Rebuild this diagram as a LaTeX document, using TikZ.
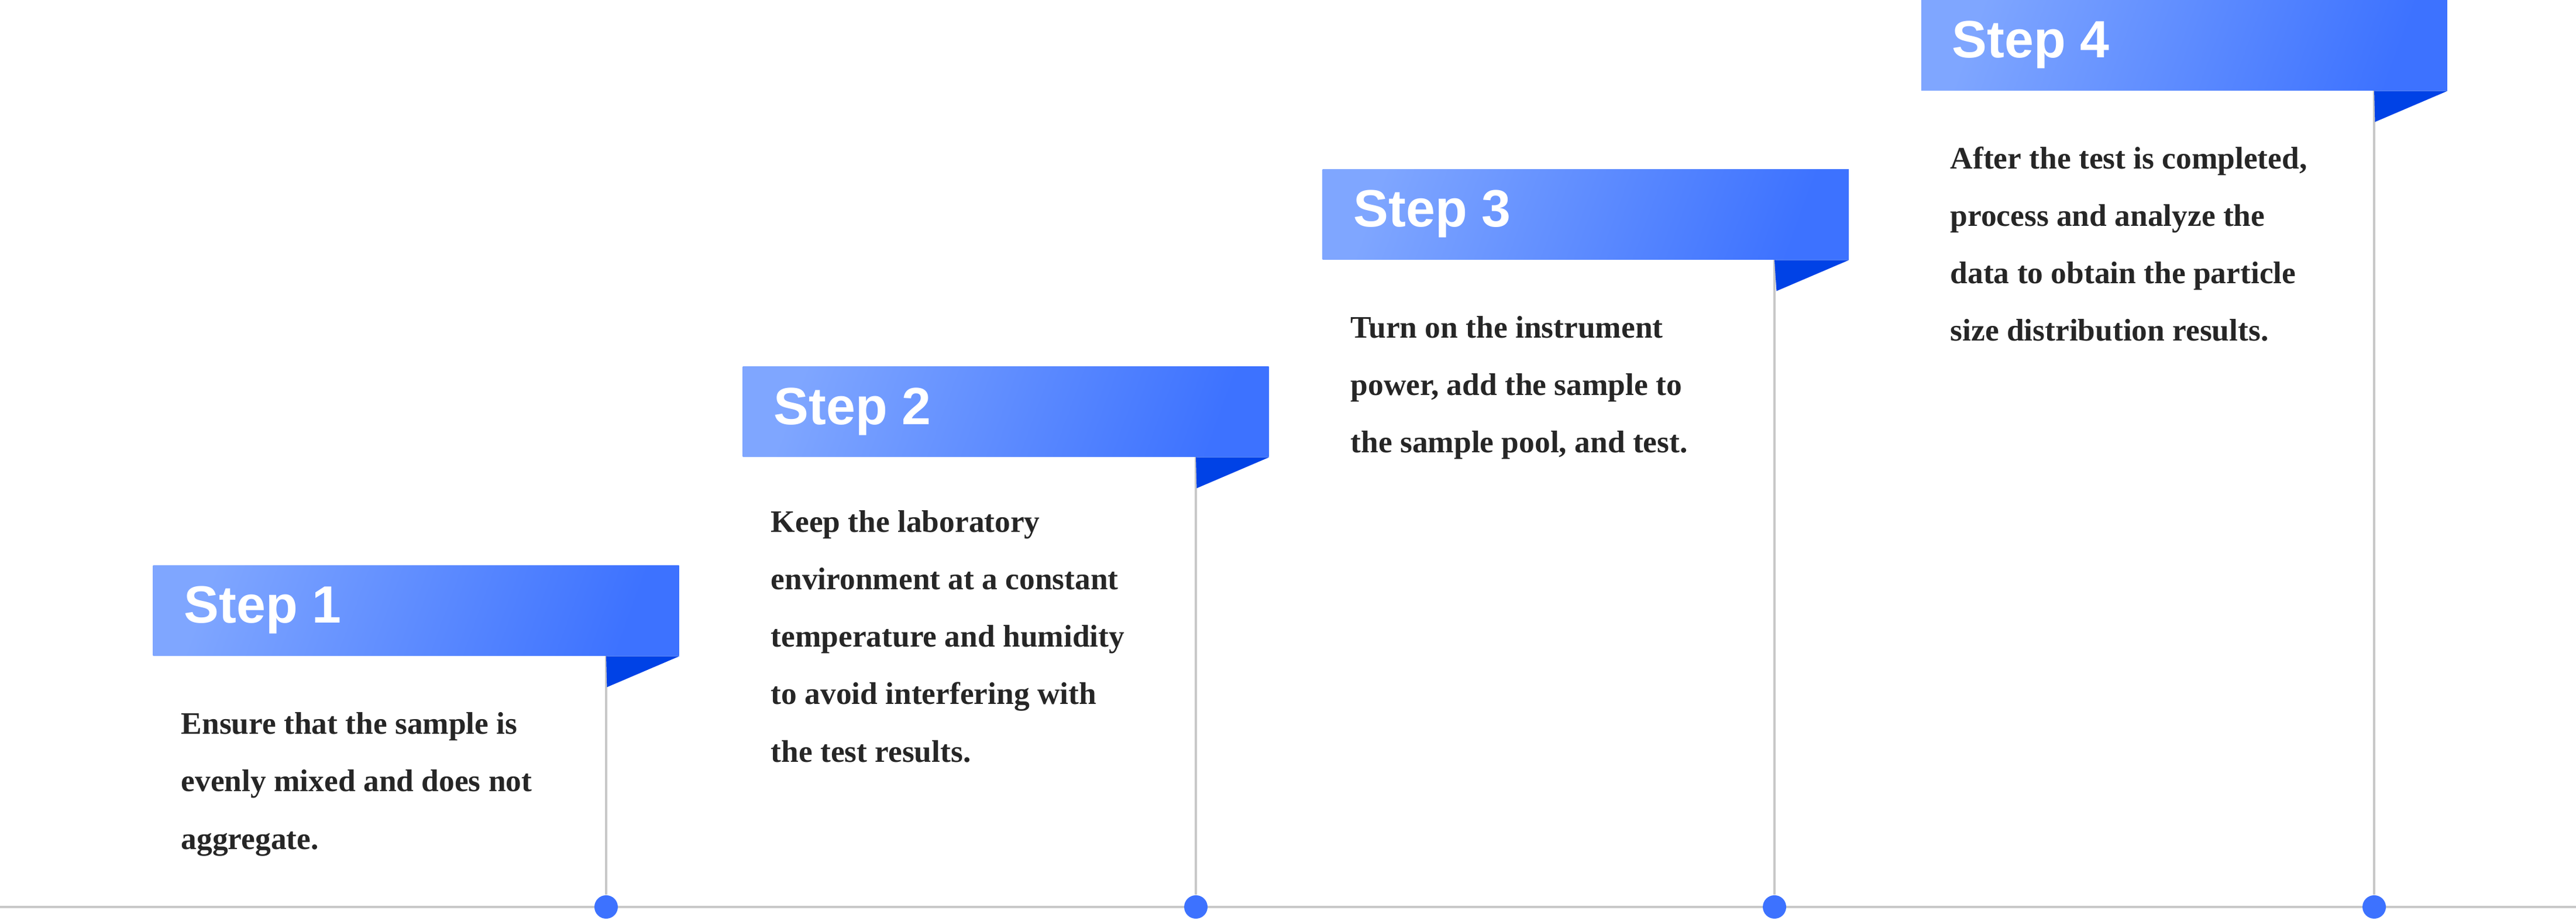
\documentclass[tikz,border=0pt]{standalone}
\usepackage{fontspec}
\setmainfont{Liberation Serif}
\setsansfont{Liberation Sans}
\usetikzlibrary{positioning}
\definecolor{bluelight}{HTML}{7FA6FF}
\definecolor{bluemid}{HTML}{3D72FF}
\definecolor{bluedark}{HTML}{0042E6}
\definecolor{linegray}{HTML}{C8C8C8}
\definecolor{textdark}{HTML}{262626}

\tikzset{
  banner/.style={rectangle, anchor=north west, minimum width=8.99cm, minimum height=1.54cm,
    left color=bluelight, right color=bluemid, shading angle=70, inner sep=0pt},
  bannertext/.style={anchor=west, text=white, font=\sffamily\bfseries\fontsize{25.5}{30}\selectfont, inner sep=0pt},
  bodytext/.style={anchor=base west, align=left, inner sep=0pt, text=textdark,
    font=\bfseries\fontsize{15.2}{27.9}\selectfont},
  dot/.style={circle, fill=bluemid, minimum size=0.4cm, inner sep=0pt},
  stem/.style={draw=linegray, line width=1.2pt}
}

\begin{document}
\begin{tikzpicture}
        \useasboundingbox (0,0) rectangle (44.03,15.73);
        % baseline
        \draw[stem] (0,0.23) -- (44.03,0.23);

        % Step 1
        \node[banner] (s1) at (2.61,6.07) {};
        \node[bannertext] (t1) at (3.14,5.30) {Step 1};
        \node[dot] (d1) at (10.36,0.23) {};
        \draw[stem] (s1.south -| d1) -- (d1);
        \fill[bluedark] (s1.south -| d1) -- (s1.south east) -- ++(-1.24,-0.53) -- cycle;
        \node[bodytext] (b1) at (3.09,1.22) {Ensure that the sample is\\evenly mixed and does not\\aggregate.};

        % Step 2
        \node[banner] (s2) at (12.69,9.47) {};
        \node[bannertext] (t2) at (13.22,8.69) {Step 2};
        \node[dot] (d2) at (20.44,0.23) {};
        \draw[stem] (s2.south -| d2) -- (d2);
        \fill[bluedark] (s2.south -| d2) -- (s2.south east) -- ++(-1.24,-0.53) -- cycle;
        \node[bodytext] (b2) at (13.17,2.71) {Keep the laboratory\\environment at a constant\\temperature and humidity\\to avoid interfering with\\the test results.};

        % Step 3
        \node[banner] (s3) at (22.60,12.84) {};
        \node[bannertext] (t3) at (23.13,12.07) {Step 3};
        \node[dot] (d3) at (30.33,0.23) {};
        \draw[stem] (s3.south -| d3) -- (d3);
        \fill[bluedark] (s3.south -| d3) -- (s3.south east) -- ++(-1.24,-0.53) -- cycle;
        \node[bodytext] (b3) at (23.08,7.99) {Turn on the instrument\\power, add the sample to\\the sample pool, and test.};

        % Step 4
        \node[banner] (s4) at (32.83,15.73) {};
        \node[bannertext] (t4) at (33.36,14.96) {Step 4};
        \node[dot] (d4) at (40.58,0.23) {};
        \draw[stem] (s4.south -| d4) -- (d4);
        \fill[bluedark] (s4.south -| d4) -- (s4.south east) -- ++(-1.24,-0.53) -- cycle;
        \node[bodytext] (b4) at (33.33,9.90) {After the test is completed,\\process and analyze the\\data to obtain the particle\\size distribution results.};
\end{tikzpicture}
\end{document}
